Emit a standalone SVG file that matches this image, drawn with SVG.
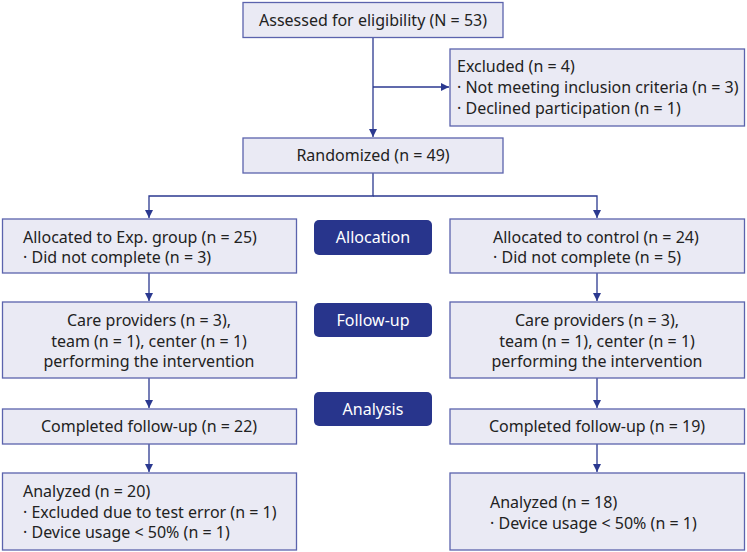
<svg xmlns="http://www.w3.org/2000/svg" width="747" height="552" viewBox="0 0 747 552">
<defs>
<style>
.box{fill:#eaeaf4;stroke:#5b63ad;stroke-width:1.3}
.lab{fill:#28358c}
.t{font-family:"Noto Sans","Liberation Sans",sans-serif;font-size:16px;fill:#222}
.c{text-anchor:middle}
.w{font-family:"Noto Sans","Liberation Sans",sans-serif;font-size:16px;fill:#fff;text-anchor:middle}
.ln{stroke:#2b3990;stroke-width:1.3;fill:none}
</style>
<marker id="ah" viewBox="0 0 10 10" refX="10" refY="5" markerWidth="8" markerHeight="8" orient="auto" markerUnits="userSpaceOnUse">
<path d="M0,0 L10,5 L0,10 z" fill="#2b3990"/>
</marker>
</defs>
<rect width="747" height="552" fill="#fff"/>
<g id="connectors">
<path class="ln" d="M373,37 V137" marker-end="url(#ah)"/>
<path class="ln" d="M373,87 H449" marker-end="url(#ah)"/>
<path class="ln" d="M373,173 V196 H149 V218" marker-end="url(#ah)"/>
<path class="ln" d="M373,196 H597 V218" marker-end="url(#ah)"/>
<path class="ln" d="M149,273 V301" marker-end="url(#ah)"/>
<path class="ln" d="M597,273 V301" marker-end="url(#ah)"/>
<path class="ln" d="M149,378 V408" marker-end="url(#ah)"/>
<path class="ln" d="M597,378 V408" marker-end="url(#ah)"/>
<path class="ln" d="M149,444 V472" marker-end="url(#ah)"/>
<path class="ln" d="M597,444 V472" marker-end="url(#ah)"/>
</g>
<g id="assessed">
<rect class="box" x="243" y="2.5" width="260" height="35"/>
<text class="t c" x="373" y="25.5">Assessed for eligibility (N = 53)</text>
</g>
<g id="excluded">
<rect class="box" x="450" y="49" width="294.5" height="77"/>
<text class="t" x="457" y="72">Excluded (n = 4)</text>
<text class="t" x="457" y="93">· Not meeting inclusion criteria (n = 3)</text>
<text class="t" x="457" y="114">· Declined participation (n = 1)</text>
</g>
<g id="randomized">
<rect class="box" x="243" y="138" width="260" height="35"/>
<text class="t c" x="373" y="161">Randomized (n = 49)</text>
</g>
<g id="alloc-exp">
<rect class="box" x="2.5" y="219" width="294" height="54"/>
<text class="t" x="23" y="243">Allocated to Exp. group (n = 25)</text>
<text class="t" x="23" y="263">· Did not complete (n = 3)</text>
</g>
<g id="alloc-ctrl">
<rect class="box" x="450" y="219" width="294.5" height="54"/>
<text class="t" x="493" y="243">Allocated to control (n = 24)</text>
<text class="t" x="493" y="263">· Did not complete (n = 5)</text>
</g>
<g id="label-allocation">
<rect class="lab" x="314" y="220" width="118" height="35" rx="5"/>
<text class="w" x="373" y="243">Allocation</text>
</g>
<g id="care-exp">
<rect class="box" x="2.5" y="302" width="294" height="76"/>
<text class="t c" x="149" y="326">Care providers (n = 3),</text>
<text class="t c" x="149" y="347">team (n = 1), center (n = 1)</text>
<text class="t c" x="149" y="367">performing the intervention</text>
</g>
<g id="care-ctrl">
<rect class="box" x="450" y="302" width="294.5" height="76"/>
<text class="t c" x="597" y="326">Care providers (n = 3),</text>
<text class="t c" x="597" y="347">team (n = 1), center (n = 1)</text>
<text class="t c" x="597" y="367">performing the intervention</text>
</g>
<g id="label-followup">
<rect class="lab" x="314" y="303" width="118" height="34" rx="5"/>
<text class="w" x="373" y="326">Follow-up</text>
</g>
<g id="completed-exp">
<rect class="box" x="2.5" y="409" width="294" height="35"/>
<text class="t c" x="149" y="432">Completed follow-up (n = 22)</text>
</g>
<g id="completed-ctrl">
<rect class="box" x="450" y="409" width="294.5" height="35"/>
<text class="t c" x="597" y="432">Completed follow-up (n = 19)</text>
</g>
<g id="label-analysis">
<rect class="lab" x="314" y="392" width="118" height="34" rx="5"/>
<text class="w" x="373" y="415">Analysis</text>
</g>
<g id="analyzed-exp">
<rect class="box" x="2.5" y="473" width="294" height="77"/>
<text class="t" x="23" y="497">Analyzed (n = 20)</text>
<text class="t" x="23" y="518">· Excluded due to test error (n = 1)</text>
<text class="t" x="23" y="538">· Device usage &lt; 50% (n = 1)</text>
</g>
<g id="analyzed-ctrl">
<rect class="box" x="450" y="473" width="294.5" height="77"/>
<text class="t" x="490" y="508">Analyzed (n = 18)</text>
<text class="t" x="490" y="529">· Device usage &lt; 50% (n = 1)</text>
</g>
</svg>
